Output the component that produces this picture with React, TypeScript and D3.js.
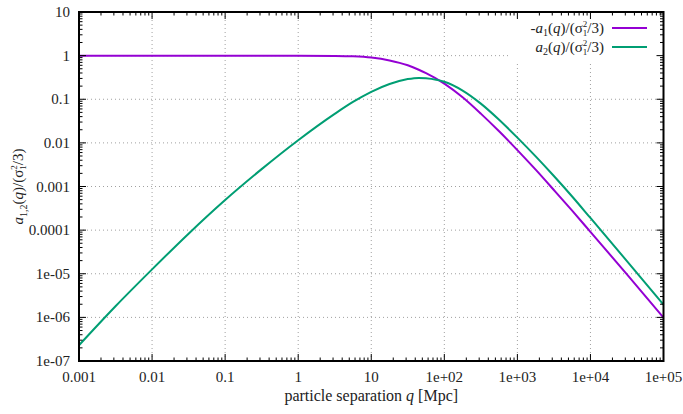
import React from "react";
import * as d3 from "d3";

// particle separation q [Mpc]
const qValues = [
  0.001, 0.00316, 0.01, 0.0316, 0.1, 0.316, 1, 3.16, 5.62, 10, 17.8, 31.6,
  44.7, 56.2, 100, 178, 316, 562, 1000, 1780, 3160, 5620, 10000, 31600, 100000,
];
// -a1(q)/(sigma1^2/3)
const a1Values = [
  1.0, 1.0, 1.0, 1.0, 1.0, 1.0, 0.998, 0.986, 0.964, 0.902, 0.776, 0.6,
  0.475, 0.397, 0.229, 0.111, 0.0468, 0.0184, 0.00684, 0.00243, 8.3e-4,
  2.79e-4, 9.1e-5, 9.7e-6, 9.9e-7,
];
// a2(q)/(sigma1^2/3)
const a2Values = [
  2.3e-7, 1.8e-6, 1.26e-5, 8.3e-5, 4.9e-4, 2.5e-3, 0.0115, 0.0462, 0.0867,
  0.148, 0.224, 0.29, 0.309, 0.302, 0.251, 0.158, 0.0794, 0.0339, 0.0132,
  4.9e-3, 1.74e-3, 5.9e-4, 1.9e-4, 1.95e-5, 1.95e-6,
];

const xTicks = [0.001, 0.01, 0.1, 1, 10, 100, 1000, 10000, 100000];
const xTickLabels = ["0.001", "0.01", "0.1", "1", "10", "1e+02", "1e+03", "1e+04", "1e+05"];
const yTicks = [10, 1, 0.1, 0.01, 0.001, 0.0001, 1e-5, 1e-6, 1e-7];
const yTickLabels = ["10", "1", "0.1", "0.01", "0.001", "0.0001", "1e-05", "1e-06", "1e-07"];

const W = 683;
const H = 414;
const left = 79;
const right = 663.5;
const top = 12;
const bottom = 361;

const purple = "#9400d3";
const green = "#009e73";
const font = "'Liberation Serif', 'DejaVu Serif', serif";

const x = d3.scaleLog().domain([0.001, 100000]).range([left, right]);
const y = d3.scaleLog().domain([1e-7, 10]).range([bottom, top]);

const minorTicks = (lo: number, hi: number) => {
  const out: number[] = [];
  for (let e = Math.log10(lo); e < Math.log10(hi); e++) {
    for (let m = 2; m <= 9; m++) out.push(m * Math.pow(10, e));
  }
  return out;
};

const line = d3
  .line<[number, number]>()
  .x((d) => x(d[0]))
  .y((d) => y(d[1]))
  .curve(d3.curveMonotoneX);

const series = [
  { values: a1Values, color: purple },
  { values: a2Values, color: green },
];

// sigma_1^2 with the sub and sup stacked
const SigmaTerm = () => (
  <>
    <tspan>)/(σ</tspan>
    <tspan fontSize={9} dy={-6.5}>2</tspan>
    <tspan fontSize={9} dx={-4.5} dy={9}>1</tspan>
    <tspan dy={-2.5}>/3)</tspan>
  </>
);

export default function App() {
  const xMinor = minorTicks(0.001, 100000);
  const yMinor = minorTicks(1e-7, 10);
  return (
    <svg
      width={W}
      height={H}
      style={{ position: "absolute", left: 0, top: 0, background: "#fff" }}
      fontFamily={font}
      fontSize={15}
    >
      <rect x={0} y={0} width={W} height={H} fill="#fff" />
      {/* grid */}
      <g stroke="#a0a0a0" strokeWidth={1} strokeDasharray="1,3">
        {xTicks.slice(1, -1).map((t) => (
          <line key={"gx" + t} x1={x(t)} x2={x(t)} y1={top} y2={bottom} />
        ))}
        {yTicks.slice(1, -1).map((t) => (
          <line key={"gy" + t} x1={left} x2={right} y1={y(t)} y2={y(t)} />
        ))}
      </g>
      {/* legend box hides grid */}
      <rect x={510} y={top + 1} width={right - 511} height={50} fill="#fff" />
      {/* curves */}
      {series.map((s, i) => (
        <path
          key={i}
          d={line(qValues.map((q, j) => [q, s.values[j]] as [number, number])) || ""}
          fill="none"
          stroke={s.color}
          strokeWidth={2}
        />
      ))}
      {/* ticks */}
      <g stroke="#000" strokeWidth={1}>
        {xTicks.map((t) => (
          <g key={"tx" + t}>
            <line x1={x(t)} x2={x(t)} y1={bottom} y2={bottom - 7} />
            <line x1={x(t)} x2={x(t)} y1={top} y2={top + 7} />
          </g>
        ))}
        {xMinor.map((t) => (
          <g key={"mx" + t}>
            <line x1={x(t)} x2={x(t)} y1={bottom} y2={bottom - 3.5} />
            <line x1={x(t)} x2={x(t)} y1={top} y2={top + 3.5} />
          </g>
        ))}
        {yTicks.map((t) => (
          <g key={"ty" + t}>
            <line x1={left} x2={left + 7} y1={y(t)} y2={y(t)} />
            <line x1={right} x2={right - 7} y1={y(t)} y2={y(t)} />
          </g>
        ))}
        {yMinor.map((t) => (
          <g key={"my" + t}>
            <line x1={left} x2={left + 3.5} y1={y(t)} y2={y(t)} />
            <line x1={right} x2={right - 3.5} y1={y(t)} y2={y(t)} />
          </g>
        ))}
      </g>
      <rect
        x={left}
        y={top}
        width={right - left}
        height={bottom - top}
        fill="none"
        stroke="#000"
        strokeWidth={2}
      />
      {/* tick labels */}
      {xTicks.map((t, i) => (
        <text key={"lx" + t} x={x(t)} y={bottom + 21} textAnchor="middle" fill="#222">
          {xTickLabels[i]}
        </text>
      ))}
      {yTicks.map((t, i) => (
        <text key={"ly" + t} x={left - 9} y={y(t) + 5} textAnchor="end" fill="#222">
          {yTickLabels[i]}
        </text>
      ))}
      {/* axis titles */}
      <text x={(left + right) / 2} y={401} textAnchor="middle" fill="#222" fontSize={16}>
        particle separation <tspan fontStyle="italic">q</tspan> [Mpc]
      </text>
      <text
        transform={`translate(23,${(top + bottom) / 2}) rotate(-90)`}
        textAnchor="middle"
        fill="#222"
      >
        <tspan fontStyle="italic">a</tspan>
        <tspan fontSize={10} dy={3.5}>1,2</tspan>
        <tspan dy={-3.5}>(</tspan>
        <tspan fontStyle="italic">q</tspan>
        <SigmaTerm />
      </text>
      {/* legend */}
      {[
        { c: purple, pre: "-", sub: "1", yy: 28 },
        { c: green, pre: "", sub: "2", yy: 47 },
      ].map((l) => (
        <g key={l.sub}>
          <text x={604} y={l.yy + 5} textAnchor="end" fill="#222">
            <tspan>{l.pre}</tspan>
            <tspan fontStyle="italic">a</tspan>
            <tspan fontSize={10} dy={3}>{l.sub}</tspan>
            <tspan dy={-3}>(</tspan>
            <tspan fontStyle="italic">q</tspan>
            <SigmaTerm />
          </text>
          <line x1={612} x2={647} y1={l.yy} y2={l.yy} stroke={l.c} strokeWidth={2} />
        </g>
      ))}
    </svg>
  );
}
